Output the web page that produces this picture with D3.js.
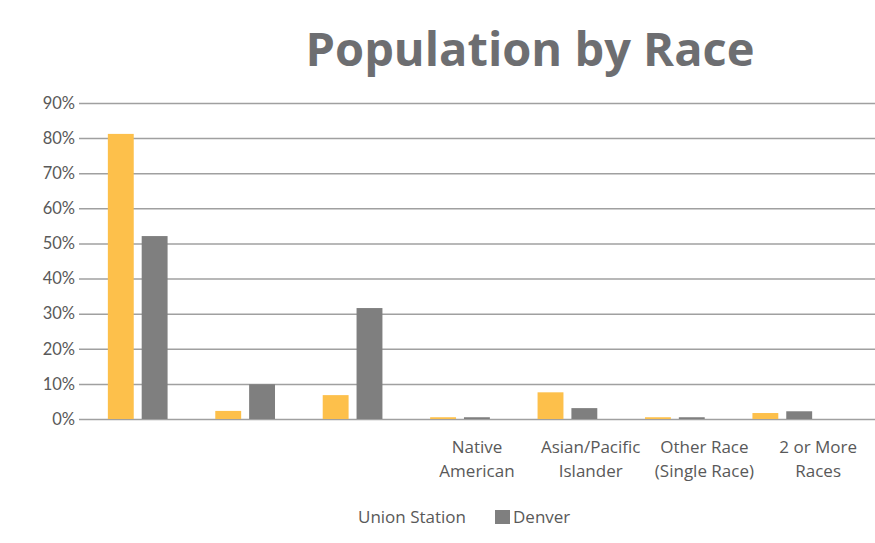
<!DOCTYPE html>
<html>
<head>
<meta charset="utf-8">
<script src="https://cdn.jsdelivr.net/npm/d3@7"></script>
<style>
  body { margin: 0; background: #fff; }
</style>
</head>
<body>
<div id="chart"></div>
<script>
// data (first three category labels are blank in the original)
const categories = ["c1", "c2", "c3", "c4", "c5", "c6", "c7"];
const tickLabels = [[""], [""], [""], ["Native", "American"], ["Asian/Pacific", "Islander"], ["Other Race", "(Single Race)"], ["2 or More", "Races"]];
const seriesNames = ["Union Station", "Denver"];
const unionStation = [0.812, 0.023, 0.068, 0.005, 0.076, 0.005, 0.017];
const denver = [0.521, 0.099, 0.316, 0.005, 0.031, 0.005, 0.022];
const yTicks = [0, 0.1, 0.2, 0.3, 0.4, 0.5, 0.6, 0.7, 0.8, 0.9];
const colors = ["#fdc04b", "#7f7f7f"];

const width = 875, height = 543;
const margin = {top: 103, right: 875, bottom: 419, left: 79};

const svg = d3.select("#chart")
  .append("svg")
    .attr("width", width)
    .attr("height", height);

// title
svg.append("text")
  .attr("x", 530)
  .attr("y", 66)
  .attr("text-anchor", "middle")
  .style("font-family", "'Open Sans', sans-serif")
  .style("font-weight", "bold")
  .style("font-size", "47px")
  .style("fill", "#6d6e71")
  .text("Population by Race");

var y = d3.scaleLinear()
  .domain([0, 0.9])
  .range([margin.bottom, margin.top]);

// gridlines + labels
const yAxis = svg.append("g")
  .attr("transform", "translate(" + margin.left + ",0)")
  .call(d3.axisLeft(y).tickValues(yTicks).tickFormat(d3.format(".0%")).tickSize(-(margin.right - margin.left)).tickPadding(4));
yAxis.select(".domain").remove();
yAxis.selectAll("line").attr("stroke", "#a0a0a0").attr("stroke-width", 1.5);
yAxis.selectAll("text")
  .style("font-family", "Lato, sans-serif")
  .style("font-size", "16.5px")
  .style("fill", "#595959");

// bars are spaced a little tighter than the labels in the original
var x0 = d3.scaleBand()
  .domain(categories)
  .range([84, 836])
  .paddingInner(0.444)
  .paddingOuter(0.222);

var x1 = d3.scaleBand()
  .domain(seriesNames)
  .range([0, x0.bandwidth()])
  .paddingInner(0.235);

var xLabel = d3.scaleBand()
  .domain(categories)
  .range([margin.left, margin.right]);

const rows = categories.map((c, i) => ({ cat: c, values: [unionStation[i], denver[i]] }));

svg.append("g")
  .selectAll("g")
  .data(rows)
  .enter()
  .append("g")
    .attr("transform", d => "translate(" + x0(d.cat) + ",0)")
  .selectAll("rect")
  .data(d => d.values.map((v, j) => ({ key: seriesNames[j], value: v, j: j })))
  .enter()
  .append("rect")
    .attr("x", d => x1(d.key))
    .attr("y", d => y(d.value))
    .attr("width", x1.bandwidth())
    .attr("height", d => y(0) - y(d.value))
    .style("fill", d => colors[d.j]);

// category labels
const catLabels = svg.append("g");
categories.forEach((c, i) => {
  const t = catLabels.append("text")
    .attr("x", xLabel(c) + xLabel.bandwidth() / 2)
    .attr("y", 453)
    .attr("text-anchor", "middle")
    .style("font-family", "'Open Sans', sans-serif")
    .style("font-size", "17px")
    .style("fill", "#595959");
  tickLabels[i].forEach((line, k) => {
    t.append("tspan")
      .attr("x", xLabel(c) + xLabel.bandwidth() / 2)
      .attr("dy", k === 0 ? 0 : 24)
      .text(line);
  });
});

// legend (no swatch shows for Union Station in the original)
const legend = svg.append("g").style("font-family", "'Open Sans', sans-serif").style("font-size", "17px").style("fill", "#595959");
legend.append("text").attr("x", 358).attr("y", 523).text(seriesNames[0]);
legend.append("rect").attr("x", 495).attr("y", 510).attr("width", 15).attr("height", 14).style("fill", colors[1]);
legend.append("text").attr("x", 513).attr("y", 523).text(seriesNames[1]);
</script>
</body>
</html>
